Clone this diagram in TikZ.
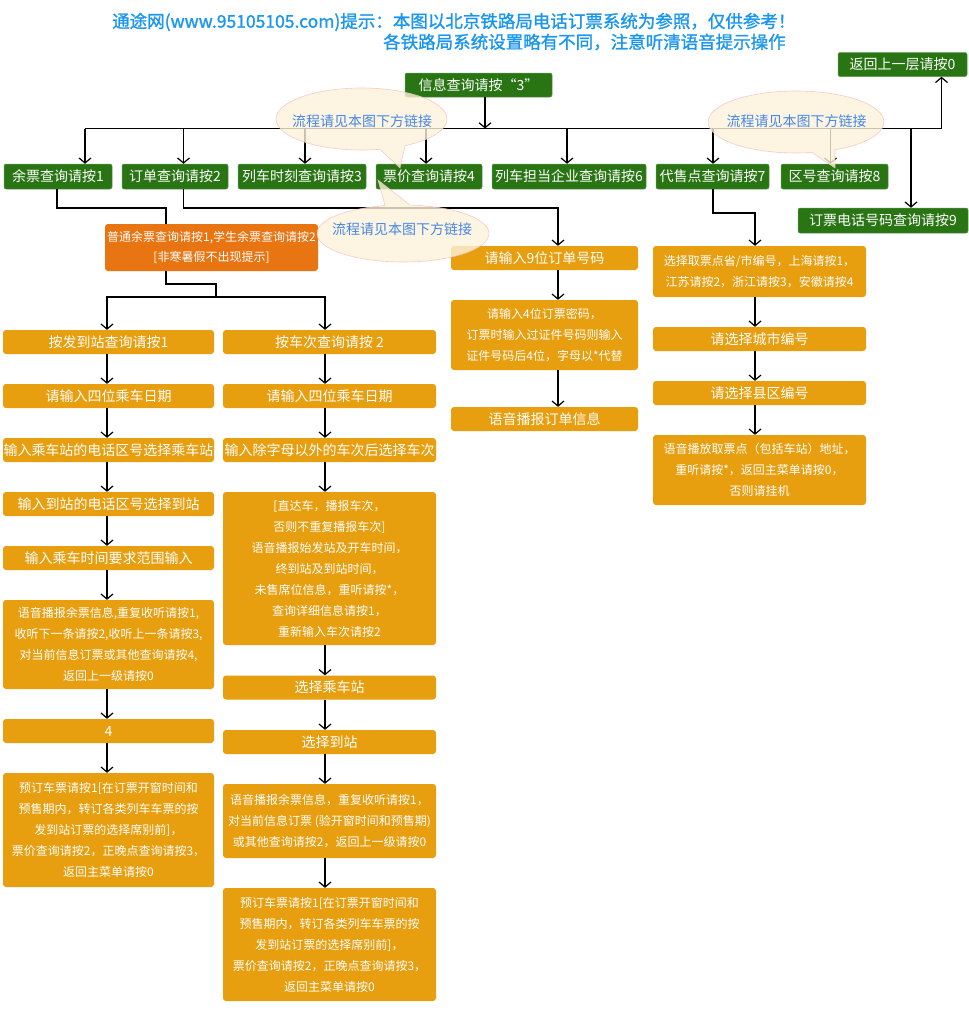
\documentclass[tikz,border=0pt]{standalone}
\usepackage{fontspec}
\usetikzlibrary{arrows.meta,calc}
\newfontfamily\cjk{Noto Sans CJK SC}
\newfontfamily\cjkh[FakeBold=1.2]{Noto Sans CJK SC}
\definecolor{gn}{RGB}{41,117,20}
\definecolor{gd}{RGB}{231,158,15}
\definecolor{orng}{RGB}{232,117,18}
\definecolor{hb}{RGB}{25,150,240}
\definecolor{cb}{RGB}{70,135,230}
\definecolor{cf}{RGB}{253,243,218}
\definecolor{cp}{RGB}{245,190,190}
\begin{document}
\begin{tikzpicture}[x=1pt,y=-1pt,
  gbox/.style={fill=gn, draw=gn!75!white, line width=0.5pt, rounded corners=2pt, text=white, inner sep=0pt, align=center, font=\cjk\fontsize{14}{16}\selectfont, minimum height=25pt},
  ybox/.style={fill=gd, rounded corners=3pt, text=white, inner sep=0pt, align=center, font=\cjk\fontsize{14}{16}\selectfont},
  obox/.style={fill=orng, rounded corners=3pt, text=white, inner sep=0pt, align=center, font=\cjk\fontsize{12}{20}\selectfont},
  ml/.style={font=\cjk\fontsize{12}{21}\selectfont},
  lw/.style={minimum width=211pt},
  mw/.style={minimum width=213pt},
  ow/.style={minimum width=187pt},
  dw/.style={minimum width=213pt},
  ln/.style={line width=1.8pt},
  arr/.style={line width=1.8pt, -{Straight Barb[length=5pt,width=12pt,line width=1.2pt]}},
  callout/.style={fill=cf, fill opacity=0.8, draw=cp, draw opacity=0.8, line width=0.6pt},
  ctext/.style={text=cb, inner sep=0pt, font=\cjk\fontsize{14}{16}\selectfont},
  htext/.style={text=hb, anchor=west, inner sep=0pt, font=\cjkh\fontsize{17.5}{20}\selectfont}]
\fill[white] (0,0) rectangle (969,1015);
\useasboundingbox (0,0) rectangle (969,1015);

% header
\node[htext] (h1) at (112,22) {通途网(www.95105105.com)提示：本图以北京铁路局电话订票系统为参照，仅供参考！};
\node[htext] (h2) at (383,42) {各铁路局系统设置略有不同，注意听清语音提示操作};

% top nodes
\node[gbox, minimum width=147pt, minimum height=24pt] (info) at (478.5,85) {信息查询请按“3”};
\node[gbox, minimum width=129pt, minimum height=24pt] (back) at (902.5,64.5) {返回上一层请按0};
\node[gbox, minimum width=108pt] (g1) at (58,176.5) {余票查询请按1};
\node[gbox, minimum width=106pt] (g2) at (175,176.5) {订单查询请按2};
\node[gbox, minimum width=128pt] (g3) at (302,176.5) {列车时刻查询请按3};
\node[gbox, minimum width=106pt] (g4) at (429,176.5) {票价查询请按4};
\node[gbox, minimum width=154pt] (g6) at (569,176.5) {列车担当企业查询请按6};
\node[gbox, minimum width=113pt] (g7) at (712.5,176.5) {代售点查询请按7};
\node[gbox, minimum width=107pt] (g8) at (834.5,176.5) {区号查询请按8};
\node[gbox, minimum width=170pt] (g9) at (883,220.5) {订票电话号码查询请按9};

% orange
\node[obox, minimum width=213pt, minimum height=47pt] (Y) at (211.5,247.5) {普通余票查询请按1,学生余票查询请按2\\{}[非寒暑假不出现提示]};

% left column
\node[ybox, lw, minimum height=24pt] (L1) at (108.5,342) {按发到站查询请按1};
\node[ybox, lw, minimum height=24pt] (L2) at (108.5,396) {请输入四位乘车日期};
\node[ybox, lw, minimum height=24pt] (L3) at (108.5,450) {输入乘车站的电话区号选择乘车站};
\node[ybox, lw, minimum height=24pt] (L4) at (108.5,504) {输入到站的电话区号选择到站};
\node[ybox, lw, minimum height=24pt] (L5) at (108.5,558) {输入乘车时间要求范围输入};
\node[ybox, ml, lw, minimum height=89pt] (L6) at (108.5,644.5) {语音播报余票信息,重复收听请按1,\\收听下一条请按2,收听上一条请按3,\\对当前信息订票或其他查询请按4,\\返回上一级请按0};
\node[ybox, lw, minimum height=24pt] (L7) at (108.5,731) {4};
\node[ybox, ml, lw, minimum height=114pt] (L8) at (108.5,830) {预订车票请按1[在订票开窗时间和\\预售期内，转订各类列车车票的按\\发到站订票的选择席别前]，\\票价查询请按2，正晚点查询请按3，\\返回主菜单请按0};

% middle column
\node[ybox, mw, minimum height=24pt] (M1) at (329.5,342) {按车次查询请按 2};
\node[ybox, mw, minimum height=24pt] (M2) at (329.5,396) {请输入四位乘车日期};
\node[ybox, mw, minimum height=24pt] (M3) at (329.5,450) {输入除字母以外的车次后选择车次};
\node[ybox, ml, mw, minimum height=153pt] (M4) at (329.5,568.5) {{}[直达车，播报车次，\\否则不重复播报车次]\\语音播报始发站及开车时间，\\终到站及到站时间，\\未售席位信息，重听请按*，\\查询详细信息请按1，\\重新输入车次请按2};
\node[ybox, mw, minimum height=24pt] (M5) at (329.5,687.5) {选择乘车站};
\node[ybox, mw, minimum height=24pt] (M6) at (329.5,742) {选择到站};
\node[ybox, ml, mw, minimum height=74pt] (M7) at (329.5,821) {语音播报余票信息，重复收听请按1，\\对当前信息订票 (验开窗时间和预售期)\\或其他查询请按2，返回上一级请按0};
\node[ybox, ml, mw, minimum height=113pt] (M8) at (329.5,944.5) {预订车票请按1[在订票开窗时间和\\预售期内，转订各类列车车票的按\\发到站订票的选择席别前]，\\票价查询请按2，正晚点查询请按3，\\返回主菜单请按0};

% order column
\node[ybox, ow, minimum height=24pt] (O1) at (544.5,258) {请输入9位订单号码};
\node[ybox, ml, ow, minimum height=70pt] (O2) at (544.5,335) {请输入4位订票密码，\\订票时输入过证件号码则输入\\证件号码后4位，字母以*代替};
\node[ybox, ow, minimum height=24pt] (O3) at (544.5,419) {语音播报订单信息};

% agent column
\node[ybox, ml, dw, minimum height=51pt] (D1) at (759.5,271.5) {选择取票点省/市编号，上海请按1，\\江苏请按2，浙江请按3，安徽请按4};
\node[ybox, dw, minimum height=24pt] (D2) at (759.5,339) {请选择城市编号};
\node[ybox, dw, minimum height=24pt] (D3) at (759.5,393) {请选择县区编号};
\node[ybox, ml, dw, minimum height=70pt] (D4) at (759.5,470) {语音播放取票点（包括车站）地址，\\重听请按*，返回主菜单请按0，\\否则请挂机};

% bus
\coordinate (xi) at (485,0);
\coordinate (bL) at (85,128.5);
\coordinate (bR) at (941.5,128.5);
\draw[arr] (info.south -| xi) -- (xi |- bL);
\draw[arr] (bL) -- (bR) -- (bR |- back.south);
\coordinate (d2) at (183.5,128.5);
\coordinate (d3) at (305,128.5);
\coordinate (d4) at (426,128.5);
\coordinate (d6) at (567,128.5);
\coordinate (d7) at (713,128.5);
\coordinate (d8) at (830.5,128.5);
\coordinate (d9) at (911,128.5);
\draw[arr] (bL) -- (bL |- g1.north);
\draw[arr] (d2) -- (d2 |- g2.north);
\draw[arr] (d3) -- (d3 |- g3.north);
\draw[arr] (d4) -- (d4 |- g4.north);
\draw[arr] (d6) -- (d6 |- g6.north);
\draw[arr] (d7) -- (d7 |- g7.north);
\draw[arr] (d8) -- (d8 |- g8.north);
\draw[arr] (d9) -- (d9 |- g9.north);

% 余票 -> orange -> split
\coordinate (k1) at (57,208);
\coordinate (k2) at (166,208);
\draw[ln] (g1.south -| k1) -- (k1) -- (k2) -- (k2 |- Y.north);
\coordinate (k3) at (166,284);
\coordinate (k4) at (216,284);
\coordinate (k5) at (216,297);
\draw[ln] (Y.south -| k3) -- (k3) -- (k4) -- (k5);
\coordinate (sL) at (107,297);
\coordinate (sR) at (325,297);
\draw[ln, line cap=rect] (sL) -- (sR);
\draw[arr] (sL) -- (sL |- L1.north);
\draw[arr] (sR) -- (sR |- M1.north);

% left arrows
\coordinate (xL) at (107,0);
\draw[arr] (L1.south -| xL) -- (L2.north -| xL);
\draw[arr] (L2.south -| xL) -- (L3.north -| xL);
\draw[arr] (L3.south -| xL) -- (L4.north -| xL);
\draw[arr] (L4.south -| xL) -- (L5.north -| xL);
\draw[arr] (L5.south -| xL) -- (L6.north -| xL);
\draw[arr] (L6.south -| xL) -- (L7.north -| xL);
\draw[arr] (L7.south -| xL) -- (L8.north -| xL);

% middle arrows
\coordinate (xM) at (325,0);
\draw[arr] (M1.south -| xM) -- (M2.north -| xM);
\draw[arr] (M2.south -| xM) -- (M3.north -| xM);
\draw[arr] (M3.south -| xM) -- (M4.north -| xM);
\draw[arr] (M4.south -| xM) -- (M5.north -| xM);
\draw[arr] (M5.south -| xM) -- (M6.north -| xM);
\draw[arr] (M6.south -| xM) -- (M7.north -| xM);
\draw[arr] (M7.south -| xM) -- (M8.north -| xM);

% order
\coordinate (k6) at (183.5,208);
\coordinate (k7) at (558,208);
\draw[arr] (g2.south -| k6) -- (k6) -- (k7) -- (k7 |- O1.north);
\coordinate (xO) at (558,0);
\draw[arr] (O1.south -| xO) -- (O2.north -| xO);
\draw[arr] (O2.south -| xO) -- (O3.north -| xO);

% agent
\coordinate (k8) at (713,213);
\coordinate (k9) at (755,213);
\draw[arr] (g7.south -| k8) -- (k8) -- (k9) -- (k9 |- D1.north);
\coordinate (xD) at (755,0);
\draw[arr] (D1.south -| xD) -- (D2.north -| xD);
\draw[arr] (D2.south -| xD) -- (D3.north -| xD);
\draw[arr] (D3.south -| xD) -- (D4.north -| xD);

% callouts
\path[callout] (361.5,119) ++(77.5:85.5 and 31) arc[start angle=77.5, end angle=419.4, x radius=85.5, y radius=31] -- (400,168) -- cycle;
\path[callout] (403,233.5) ++(274.7:86 and 28.5) arc[start angle=274.7, end angle=618, x radius=86, y radius=28.5] -- (378,180) -- cycle;
\path[callout] (796,122) ++(79.5:88 and 31) arc[start angle=79.5, end angle=423.7, x radius=88, y radius=31] -- (835,168) -- cycle;
\node[ctext] (t1) at (362,121) {流程请见本图下方链接};
\node[ctext] (t2) at (402,229) {流程请见本图下方链接};
\node[ctext] (t3) at (796.5,121) {流程请见本图下方链接};
\end{tikzpicture}
\end{document}
